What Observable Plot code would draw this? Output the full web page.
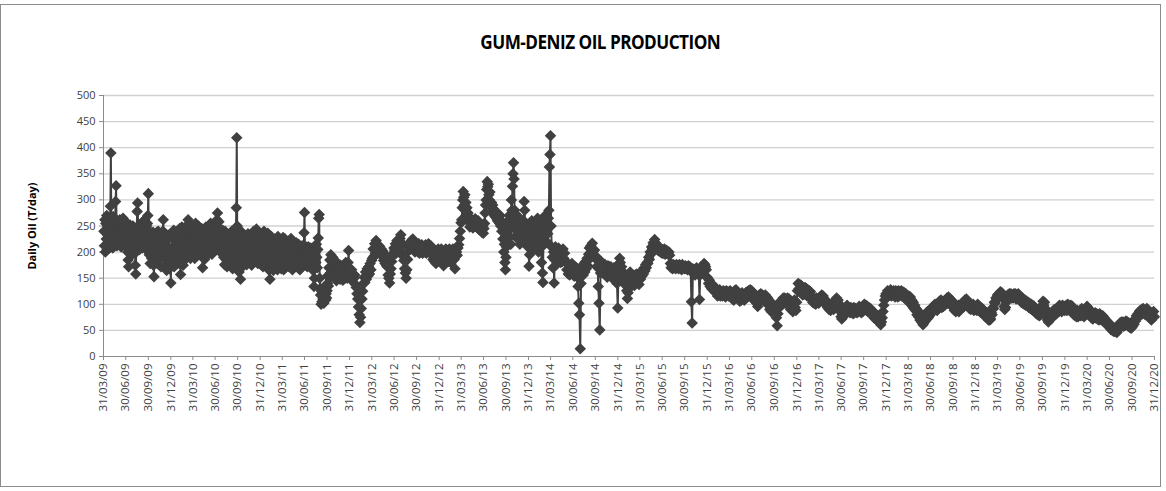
<!DOCTYPE html>
<html>
<head>
<meta charset="utf-8">
<script src="https://cdn.jsdelivr.net/npm/d3@7"></script>
<script src="https://cdn.jsdelivr.net/npm/@observablehq/plot@0.6"></script>
<style>
  html, body { margin: 0; padding: 0; background: #fff; }
  #frame { position: absolute; left: 0; top: 4px; width: 1161px; height: 483px; border: 1px solid #8c8c8c; box-sizing: border-box; }
  #title { position: absolute; left: 17px; width: 1166px; top: 28px; text-align: center; }
  #title span { display: inline-block; transform: scaleX(0.88); font-family: "Open Sans", sans-serif; font-weight: 700; font-size: 19.5px; letter-spacing: -0.6px; color: #000; }
  #chart { position: absolute; left: 0; top: 0; }
</style>
</head>
<body>
<div id="frame"></div>
<div id="chart"></div>
<div id="title"><span>GUM-DENIZ OIL PRODUCTION</span></div>
<script>
// Daily oil (T/day) samples; one string per month, samples in time order.
const y2009 = [ // Apr..Dec
  "240 212 262 200 255 225 270 205 250 232 218 266 208 245 288 390",
  "262 218 255 208 268 232 245 212 260 297 327 258 212 245 225 250",
  "250 215 262 222 258 210 240 255 232 265 218 245 228 260 212 248",
  "248 212 235 200 185 172 210 225 252 200 240 215 232 196 250 222",
  "240 205 225 175 158 200 245 278 294 250 215 238 205 242 220 250",
  "232 252 208 258 222 245 212 262 228 240 205 250 215 255 270 312",
  "235 195 240 178 215 230 188 222 200 238 175 153 218 198 230 185",
  "205 238 178 222 240 188 212 230 198 225 172 235 195 215 240 262",
  "230 188 218 172 235 198 165 212 178 225 190 232 168 205 185 141"
];
const y2010 = [
  "195 235 180 228 205 242 172 222 190 238 200 215 178 232 196 225",
  "232 178 245 202 157 222 186 248 206 236 175 225 195 240 185 215",
  "215 250 192 240 205 262 198 236 212 250 188 228 245 200 235 210",
  "248 200 240 188 232 255 210 192 245 222 205 250 195 238 215 230",
  "230 195 245 205 170 226 240 200 186 236 212 248 192 228 205 240",
  "216 250 200 242 226 255 205 236 196 246 215 232 205 250 222 240",
  "230 250 205 262 275 240 215 258 226 245 210 236 198 228 215 242",
  "236 190 226 176 240 206 186 232 172 216 195 228 180 210 235 200",
  "222 176 240 192 168 232 200 225 185 215 175 238 285 419 250 200",
  "236 182 162 226 202 148 240 186 216 172 230 195 210 178 225 190",
  "190 230 176 222 206 235 182 216 196 226 185 232 200 175 220 208",
  "216 240 182 230 200 226 186 244 196 220 178 235 205 190 228 210"
];
const y2011 = [
  "220 176 234 190 228 172 210 240 186 225 198 232 180 215 205 236",
  "200 166 224 180 148 215 190 230 170 205 185 220 165 210 178 225",
  "210 170 224 180 215 166 230 190 205 176 220 185 200 168 215 195",
  "190 228 166 215 180 225 170 210 195 220 175 205 186 218 172 200",
  "176 215 226 186 205 166 220 180 210 190 172 212 195 218 178 205",
  "200 170 215 180 210 166 205 185 195 172 212 180 205 190 237 276",
  "200 176 210 186 205 172 196 210 180 205 190 175 208 185 200 195",
  "200 165 185 134 150 185 205 180 215 190 170 205 227 265 272 150",
  "130 118 100 125 105 130 110 122 102 128 115 135 108 120 112 126",
  "140 155 135 170 150 185 160 195 172 182 165 190 158 178 168 185",
  "162 150 172 145 165 176 150 160 170 155 168 148 175 158 165 152",
  "165 146 175 155 170 150 162 180 158 172 150 168 180 203 165 155"
];
const y2012 = [
  "162 148 166 144 158 150 156 138 132 120",
  "110 95 80 65 75 92 110 125 140 152",
  "142 162 148 168 154 172 158 178 166 184",
  "188 206 192 216 198 222 206 214 200 212",
  "210 196 206 192 202 184 196 178 190 174",
  "172 156 150 141 158 168 182 192 198 208",
  "204 216 198 222 206 218 202 226 233 218",
  "212 192 184 168 160 150 166 186 202 212",
  "218 206 222 210 225 204 214 200 216 206",
  "212 200 216 198 212 202 214 198 210 200",
  "206 214 198 212 200 216 202 198 212 204",
  "202 186 206 182 196 178 202 188 206 192"
];
const y2013 = [
  "198 182 206 178 202 174 196 186 206 182",
  "188 202 182 206 192 180 202 188 206 192",
  "186 168 192 200 194 208 214 226 240 256",
  "262 285 300 316 305 290 310 280 295 270 285 260 275 265",
  "262 248 264 252 262 246 260 250 264 252",
  "258 246 260 244 254 242 252 238 250 236",
  "245 255 275 290 300 320 335 325 330 310 300 315 290 285",
  "295 285 290 275 282 270 280 268 275 265 272 260 268 258",
  "265 255 270 250 258 240 250 225 240 200 215 180 166 190",
  "210 240 225 260 245 270 230 255 215 300 280 326 350 371",
  "340 280 250 230 265 240 270 225 255 235 260 215 245 230",
  "245 220 260 235 250 297 280 250 230 255 220 240 210 230"
];
const y2014 = [
  "173 195 230 250 215 260 235 205 245 225 255 210 240 220",
  "250 215 265 230 200 255 220 245 210 260 180 225 160 142",
  "230 255 215 270 240 260 220 250 235 265 280 363 387 423",
  "250 210 190 170 200 141 185 210 175 198 182 205",
  "208 186 202 180 200 182 206 188 198 182",
  "182 166 178 158 174 156 172 162 178 158",
  "168 154 172 158 170 152 134 102 80 15",
  "140 162 172 156 178 162 182 168 188 174",
  "196 208 188 212 198 217 202 192 204 188",
  "192 172 186 134 102 51 160 182 168 164",
  "172 158 176 156 170 152 174 160 172 156",
  "172 156 166 148 170 152 164 148 140 93"
];
const y2015 = [
  "150 178 188 180 165 172 155 162 145 152 138 148",
  "150 126 111 122 140 155 162 146 152 136",
  "142 152 136 156 144 158 146 154 138 150",
  "148 158 154 166 158 170 164 176 170 180",
  "178 190 186 200 196 210 206 218 214 224",
  "218 210 214 204 210 202 208 200 206 198",
  "204 198 206 196 204 198 202 196 200 194",
  "178 170 176 168 176 170 174 168 176 170",
  "174 168 176 170 174 166 176 170 172 168",
  "174 168 172 166 174 168 172 166 105 64",
  "168 158 166 156 164 170 160 166 156 109",
  "156 164 162 172 168 178 176 172 166 152"
];
const y2016 = [
  "150 140 146 134 140 130 138 128 134 124",
  "132 122 128 116 126 118 128 116 124 118",
  "116 126 118 124 114 126 118 124 116 122",
  "126 116 122 110 120 108 126 118 128 116",
  "120 110 118 106 116 108 122 112 118 108",
  "114 122 112 124 116 126 118 128 120 126",
  "122 112 120 106 118 108 102 96 112 118",
  "110 120 108 118 110 116 106 118 110 114",
  "112 98 108 90 104 86 100 90 98 88",
  "96 86 74 59 82 96 104 96 106 98",
  "104 112 102 112 104 110 100 112 104 110",
  "102 90 106 92 86 100 108 94 88 104"
];
const y2017 = [
  "126 140 130 138 122 136 126 118 130 120",
  "132 120 130 116 128 118 126 114 124 112",
  "114 104 112 102 110 100 112 104 110 102",
  "106 114 108 118 110 116 104 110 100 106",
  "104 94 100 90 98 88 100 92 98 90",
  "100 108 102 112 104 108 96 100 86 76",
  "72 80 76 88 82 94 86 98 88 92",
  "90 84 94 86 92 82 94 84 92 86",
  "84 92 86 96 88 94 84 92 86 96",
  "100 92 98 88 96 86 94 88 92 84",
  "88 78 86 74 82 72 80 70 78 72",
  "70 64 61 66 74 86 98 108 116 120"
];
const y2018 = [
  "118 126 116 124 118 128 116 124 118 126",
  "124 114 126 118 124 114 126 116 124 118",
  "126 116 124 114 122 116 120 108 116 106",
  "116 106 114 102 108 96 104 92 98 88",
  "92 80 88 76 84 70 78 66 72 61",
  "64 76 68 82 72 86 74 84 78 88",
  "84 94 86 96 88 100 90 98 88 96",
  "96 106 98 108 94 104 96 106 98 108",
  "104 112 102 114 104 110 98 108 100 104",
  "96 88 98 86 96 88 98 86 94 90",
  "92 102 94 104 96 108 98 110 100 106",
  "98 92 100 90 98 92 100 88 96 90"
];
const y2019 = [
  "96 88 100 90 96 86 94 84 92 86",
  "88 78 86 76 84 74 80 70 76 70",
  "72 84 80 94 92 104 102 112 110 118",
  "112 120 116 124 116 122 112 118 96 90",
  "94 104 110 118 112 120 114 120 112 118",
  "112 120 114 120 110 118 112 120 110 116",
  "114 104 112 102 110 100 108 98 106 98",
  "104 94 102 92 100 90 98 88 96 90",
  "92 82 90 80 88 78 86 80 92 98",
  "106 98 104 92 84 76 70 66 74 80",
  "72 82 74 86 78 90 80 88 82 92",
  "94 86 98 88 96 86 98 90 96 88"
];
const y2020 = [
  "92 98 88 100 90 96 88 98 90 96",
  "90 80 88 78 86 76 88 76 86 80",
  "88 78 92 80 86 76 90 80 94 96",
  "94 84 90 78 86 74 84 72 82 76",
  "84 74 82 72 80 70 82 72 78 70",
  "78 68 74 64 70 62 68 60 64 58",
  "60 52 58 50 56 48 54 48 52 46",
  "50 58 54 64 58 66 60 66 58 64",
  "60 68 62 66 58 64 56 62 54 56",
  "58 66 62 72 68 78 74 82 78 86",
  "88 80 90 82 92 84 88 80 86 92",
  "90 80 86 74 82 70 84 74 86 76"
];

// [year, first month index (0 = Jan), months]
const years = [
  [2009, 3, y2009], [2010, 0, y2010], [2011, 0, y2011], [2012, 0, y2012],
  [2013, 0, y2013], [2014, 0, y2014], [2015, 0, y2015], [2016, 0, y2016],
  [2017, 0, y2017], [2018, 0, y2018], [2019, 0, y2019], [2020, 0, y2020]
];

const xTickLabels = [
  "31/03/09","30/06/09","30/09/09","31/12/09","31/03/10","30/06/10","30/09/10","31/12/10",
  "31/03/11","30/06/11","30/09/11","31/12/11","31/03/12","30/06/12","30/09/12","31/12/12",
  "31/03/13","30/06/13","30/09/13","31/12/13","31/03/14","30/06/14","30/09/14","31/12/14",
  "31/03/15","30/06/15","30/09/15","31/12/15","31/03/16","30/06/16","30/09/16","31/12/16",
  "31/03/17","30/06/17","30/09/17","31/12/17","31/03/18","30/06/18","30/09/18","31/12/18",
  "31/03/19","30/06/19","30/09/19","31/12/19","31/03/20","30/06/20","30/09/20","31/12/20"
];
const yTicks = [0, 50, 100, 150, 200, 250, 300, 350, 400, 450, 500];
const yLabel = "Daily Oil (T/day)";

const parse = d3.utcParse("%d/%m/%y");
const fmt = d3.utcFormat("%d/%m/%y");
const xTicks = xTickLabels.map(parse);

const data = [];
for (const [year, m0, months] of years) {
  months.forEach((s, i) => {
    const vals = s.trim().split(/\s+/).map(Number);
    const start = Date.UTC(year, m0 + i, 1);
    const end = Date.UTC(year, m0 + i + 1, 1);
    vals.forEach((v, k) => {
      data.push({date: new Date(start + (k + 0.5) / vals.length * (end - start)), value: v});
    });
  });
}

const ink = "#404040";
const chart = Plot.plot({
  width: 1166,
  height: 491,
  marginLeft: 103,
  marginRight: 12,
  marginTop: 95,
  marginBottom: 135,
  style: {fontFamily: "'Open Sans', sans-serif", fontSize: "11px", color: "#404040", background: "transparent"},
  x: {type: "utc", domain: [xTicks[0], xTicks[xTicks.length - 1]]},
  y: {domain: [0, 500]},
  marks: [
    Plot.gridY(yTicks.filter(d => d > 0), {stroke: "#d0d0d0", strokeOpacity: 1, strokeWidth: 1.3}),
    Plot.ruleY([0], {stroke: "#8c8c8c"}),
    Plot.ruleX([xTicks[0]], {stroke: "#8c8c8c"}),
    Plot.axisY(yTicks, {tickSize: 4, tickPadding: 4, stroke: "#8c8c8c", label: null, fontSize: 11, fill: "#404040"}),
    Plot.axisX(xTicks, {tickSize: 4, tickPadding: 3, tickRotate: -90, tickFormat: fmt, stroke: "#8c8c8c", label: null, fontSize: 11.5, fill: "#404040"}),
    Plot.text([yLabel], {frameAnchor: "left", textAnchor: "middle", rotate: -90, dx: -71, fontWeight: "bold", fontSize: 11, fill: "#000"}),
    Plot.line(data, {x: "date", y: "value", stroke: ink, strokeWidth: 2}),
    Plot.dot(data, {x: "date", y: "value", symbol: "diamond2", r: 5.2, fill: ink, stroke: "none"})
  ]
});
document.getElementById("chart").appendChild(chart);
</script>
</body>
</html>
